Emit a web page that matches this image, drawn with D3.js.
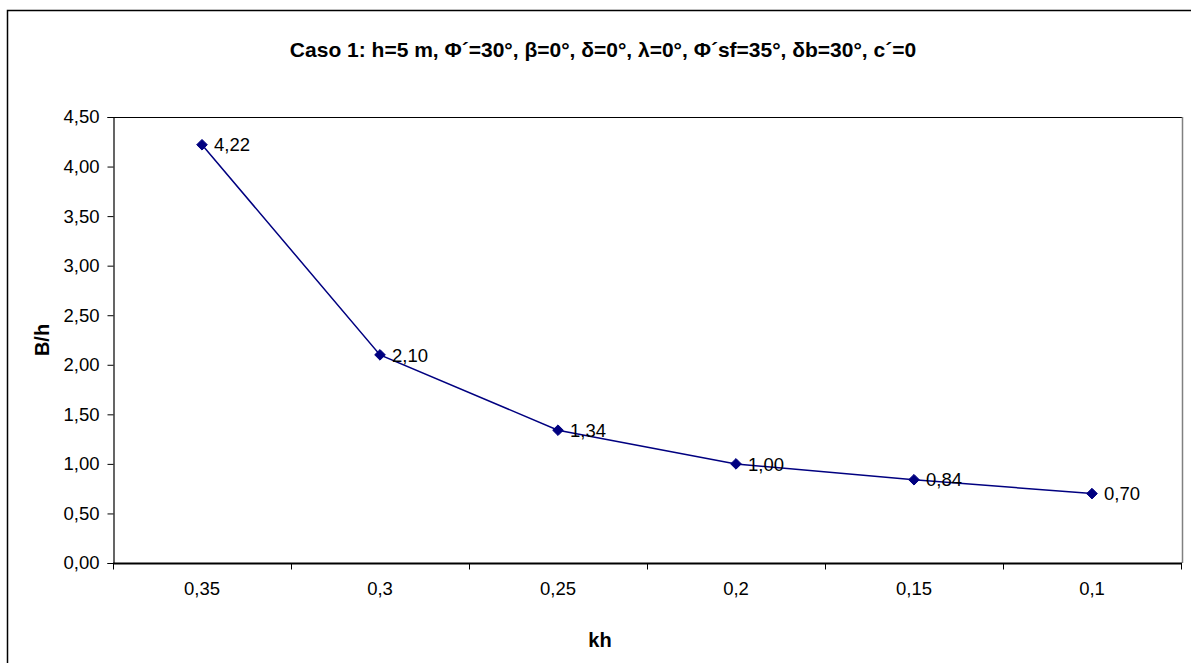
<!DOCTYPE html>
<html>
<head>
<meta charset="utf-8">
<script src="https://cdn.jsdelivr.net/npm/d3@7"></script>
<style>
  html, body { margin: 0; padding: 0; background: #fff; }
  svg { display: block; font-family: "Liberation Sans", Arial, sans-serif; }
</style>
</head>
<body>
<svg id="chart" width="1191" height="663"></svg>
<script>
// Horizontal categories (kh) and the B/h ratio for each
const categories = ["0,35", "0,3", "0,25", "0,2", "0,15", "0,1"];
const ratioValues = [4.22, 2.10, 1.34, 1.00, 0.84, 0.70];
const yTicks = [0, 0.5, 1, 1.5, 2, 2.5, 3, 3.5, 4, 4.5];

const titleText = "Caso 1: h=5 m, Φ´=30°, β=0°, δ=0°, λ=0°, Φ´sf=35°, δb=30°, c´=0";
const xTitle = "kh";
const yTitle = "B/h";

const svg = d3.select("#chart");
const W = 1191, H = 663;
const plot = { left: 113, right: 1181, top: 117, bottom: 563 };
const navy = "#000080";
const labelSize = 18.5;
const fmt = v => d3.format(".2f")(v).replace(".", ",");

// Outer chart frame (left and top edges visible)
svg.append("path")
  .attr("d", `M7.5,${H} V10.5 H${W}`)
  .attr("fill", "none").attr("stroke", "#000").attr("stroke-width", 1.5);

const x = d3.scaleBand().domain(categories).range([plot.left, plot.right]);
const y = d3.scaleLinear().domain([0, 4.5]).range([plot.bottom, plot.top]);

// Plot area border: top and right
svg.append("line")
  .attr("x1", plot.left).attr("x2", plot.right + 1)
  .attr("y1", plot.top + 0.5).attr("y2", plot.top + 0.5)
  .attr("stroke", "#000").attr("stroke-width", 1);
svg.append("line")
  .attr("x1", plot.right + 1.5).attr("x2", plot.right + 1.5)
  .attr("y1", plot.top).attr("y2", plot.bottom)
  .attr("stroke", "#808080").attr("stroke-width", 1.5);

// Title
svg.append("text")
  .attr("x", 603).attr("y", 57)
  .attr("text-anchor", "middle")
  .attr("font-size", 21).attr("font-weight", "bold")
  .text(titleText);

// Y axis
const yAxis = d3.axisLeft(y).tickValues(yTicks).tickFormat(fmt).tickSize(6).tickPadding(8);
const gy = svg.append("g").attr("transform", `translate(${plot.left + 0.5},0)`).call(yAxis);
gy.select(".domain").attr("stroke", "#000").attr("stroke-width", 1.2);
gy.selectAll(".tick line").attr("stroke", "#000");
gy.selectAll(".tick text").attr("font-size", labelSize).attr("font-family", "Liberation Sans, Arial, sans-serif").attr("fill", "#000");

// X axis: ticks on category boundaries, labels at category centres
const gx = svg.append("g").attr("transform", `translate(0,${plot.bottom + 0.5})`);
gx.append("line")
  .attr("x1", plot.left).attr("x2", plot.right + 1)
  .attr("stroke", "#000").attr("stroke-width", 2);
const boundaries = categories.map(c => x(c)).concat([x.range()[1]]);
gx.selectAll("line.tk").data(boundaries).join("line")
  .attr("class", "tk")
  .attr("x1", d => Math.round(d) + 0.5).attr("x2", d => Math.round(d) + 0.5)
  .attr("y1", 0).attr("y2", 6)
  .attr("stroke", "#000");
gx.selectAll("text").data(categories).join("text")
  .attr("x", d => x(d) + x.bandwidth() / 2)
  .attr("y", 31)
  .attr("text-anchor", "middle")
  .attr("font-size", labelSize)
  .text(d => d);

// Axis titles
svg.append("text")
  .attr("x", 600).attr("y", 647)
  .attr("text-anchor", "middle")
  .attr("font-size", 20).attr("font-weight", "bold")
  .text(xTitle);
svg.append("text")
  .attr("transform", `translate(49,${(plot.top + plot.bottom) / 2}) rotate(-90)`)
  .attr("text-anchor", "middle")
  .attr("font-size", 20).attr("font-weight", "bold")
  .text(yTitle);

// Series
const pts = categories.map((c, i) => ({ c, v: ratioValues[i] }));
const line = d3.line().x(d => x(d.c) + x.bandwidth() / 2).y(d => y(d.v));
svg.append("path").datum(pts)
  .attr("d", line).attr("fill", "none")
  .attr("stroke", navy).attr("stroke-width", 1.5);

const diamond = d3.symbol().type(d3.symbolDiamond2).size(72);
svg.selectAll("path.mk").data(pts).join("path")
  .attr("class", "mk")
  .attr("d", diamond)
  .attr("transform", d => `translate(${x(d.c) + x.bandwidth() / 2},${y(d.v)})`)
  .attr("fill", navy).attr("stroke", navy).attr("stroke-width", 1);

// Data labels
svg.selectAll("text.lbl").data(pts).join("text")
  .attr("class", "lbl")
  .attr("x", d => x(d.c) + x.bandwidth() / 2 + 12)
  .attr("y", d => y(d.v))
  .attr("dy", "0.36em")
  .attr("font-size", labelSize)
  .text(d => fmt(d.v));
</script>
</body>
</html>
